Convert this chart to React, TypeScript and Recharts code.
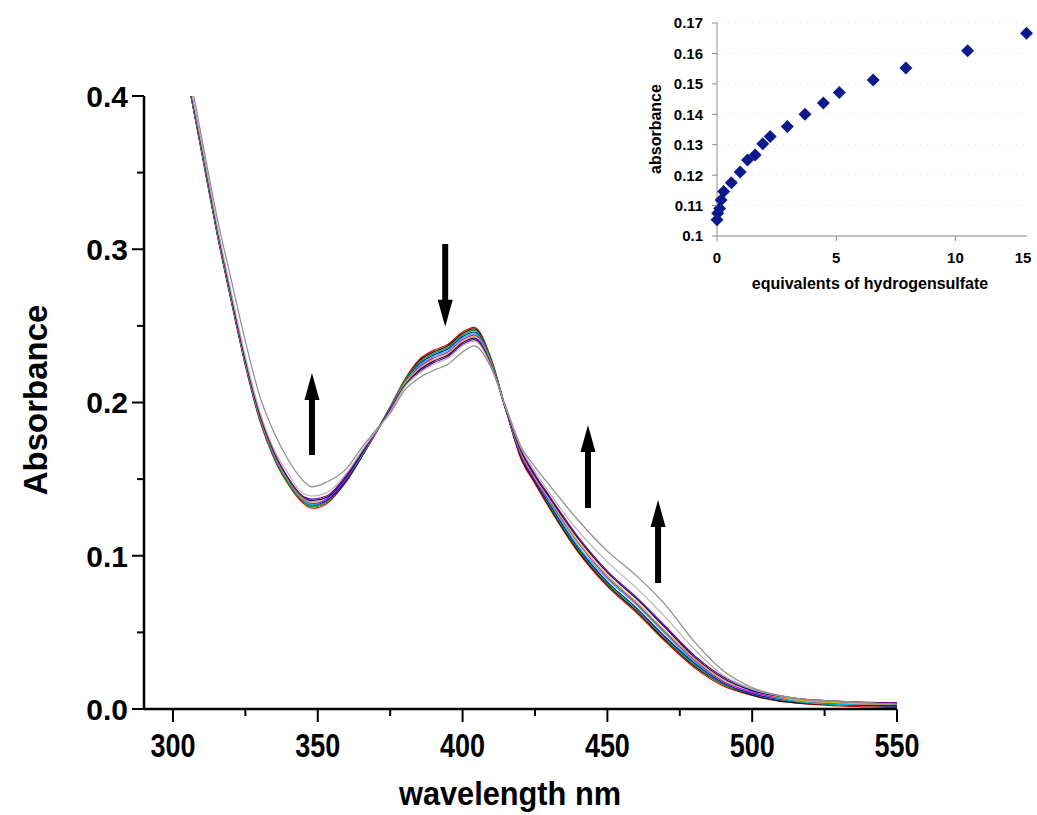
import React from 'react';
import { LineChart, Line, XAxis, YAxis, ReferenceLine, ScatterChart, Scatter, CartesianGrid } from 'recharts';

// wavelength grid (nm) for the titration spectra
const wavelengths = [305, 310, 315, 320, 325, 330, 335, 340, 344, 348, 353, 360, 365, 370, 375, 380, 385, 390, 395, 400, 404, 410, 415, 420, 425, 430, 440, 450, 460, 470, 480, 490, 500, 515, 530, 550];

// absorbance of each spectrum, first (no anion) to last
const spec01 = [0.412, 0.362, 0.312, 0.267, 0.224, 0.188, 0.163, 0.146, 0.136, 0.131, 0.134, 0.149, 0.164, 0.180, 0.197, 0.215, 0.228, 0.234, 0.238, 0.246, 0.249, 0.228, 0.195, 0.164, 0.147, 0.131, 0.102, 0.080, 0.063, 0.044, 0.027, 0.015, 0.009, 0.004, 0.002, 0.001];
const spec02 = [0.412, 0.363, 0.313, 0.268, 0.225, 0.189, 0.164, 0.147, 0.137, 0.132, 0.135, 0.149, 0.164, 0.180, 0.197, 0.214, 0.227, 0.233, 0.237, 0.245, 0.248, 0.227, 0.195, 0.165, 0.148, 0.132, 0.103, 0.081, 0.064, 0.045, 0.028, 0.016, 0.009, 0.004, 0.003, 0.002];
const spec03 = [0.413, 0.363, 0.313, 0.268, 0.225, 0.189, 0.164, 0.147, 0.137, 0.132, 0.135, 0.150, 0.165, 0.180, 0.197, 0.214, 0.226, 0.232, 0.236, 0.244, 0.247, 0.227, 0.195, 0.166, 0.149, 0.133, 0.104, 0.082, 0.065, 0.046, 0.029, 0.016, 0.010, 0.005, 0.003, 0.002];
const spec04 = [0.413, 0.364, 0.314, 0.269, 0.226, 0.190, 0.165, 0.148, 0.138, 0.133, 0.136, 0.150, 0.165, 0.180, 0.196, 0.213, 0.225, 0.231, 0.235, 0.243, 0.246, 0.226, 0.195, 0.166, 0.149, 0.134, 0.105, 0.083, 0.066, 0.047, 0.030, 0.017, 0.010, 0.005, 0.003, 0.002];
const spec05 = [0.413, 0.364, 0.314, 0.269, 0.226, 0.190, 0.165, 0.148, 0.138, 0.133, 0.137, 0.151, 0.165, 0.180, 0.196, 0.213, 0.224, 0.230, 0.234, 0.242, 0.245, 0.226, 0.195, 0.167, 0.150, 0.135, 0.106, 0.085, 0.068, 0.049, 0.031, 0.018, 0.011, 0.005, 0.003, 0.003];
const spec06 = [0.414, 0.365, 0.315, 0.270, 0.227, 0.191, 0.166, 0.149, 0.139, 0.134, 0.137, 0.151, 0.166, 0.180, 0.196, 0.212, 0.223, 0.229, 0.233, 0.241, 0.244, 0.225, 0.195, 0.167, 0.150, 0.136, 0.108, 0.086, 0.069, 0.050, 0.032, 0.018, 0.011, 0.006, 0.004, 0.003];
const spec07 = [0.414, 0.365, 0.315, 0.270, 0.227, 0.191, 0.166, 0.149, 0.139, 0.135, 0.138, 0.152, 0.166, 0.181, 0.195, 0.212, 0.222, 0.228, 0.232, 0.240, 0.243, 0.225, 0.195, 0.168, 0.151, 0.137, 0.109, 0.087, 0.070, 0.051, 0.033, 0.019, 0.012, 0.006, 0.004, 0.003];
const spec08 = [0.414, 0.366, 0.316, 0.271, 0.228, 0.192, 0.167, 0.150, 0.140, 0.136, 0.138, 0.152, 0.166, 0.181, 0.195, 0.211, 0.221, 0.227, 0.231, 0.239, 0.242, 0.224, 0.195, 0.169, 0.152, 0.138, 0.111, 0.089, 0.072, 0.053, 0.034, 0.020, 0.012, 0.007, 0.005, 0.004];
const spec09 = [0.415, 0.366, 0.316, 0.271, 0.228, 0.192, 0.167, 0.150, 0.140, 0.137, 0.139, 0.153, 0.167, 0.181, 0.195, 0.211, 0.220, 0.226, 0.230, 0.238, 0.241, 0.224, 0.195, 0.170, 0.153, 0.139, 0.112, 0.090, 0.073, 0.054, 0.035, 0.021, 0.013, 0.007, 0.005, 0.004];
const spec10 = [0.416, 0.368, 0.318, 0.273, 0.230, 0.194, 0.169, 0.153, 0.142, 0.139, 0.141, 0.154, 0.168, 0.181, 0.194, 0.210, 0.219, 0.225, 0.229, 0.237, 0.240, 0.223, 0.196, 0.171, 0.155, 0.141, 0.116, 0.096, 0.079, 0.060, 0.039, 0.022, 0.013, 0.007, 0.005, 0.003];
const spec11 = [0.422, 0.372, 0.323, 0.281, 0.240, 0.204, 0.180, 0.162, 0.151, 0.145, 0.148, 0.157, 0.170, 0.182, 0.193, 0.208, 0.216, 0.221, 0.225, 0.233, 0.237, 0.222, 0.197, 0.172, 0.158, 0.146, 0.123, 0.103, 0.087, 0.068, 0.044, 0.025, 0.014, 0.007, 0.005, 0.003];

const spectra = [spec01, spec02, spec03, spec04, spec05, spec06, spec07, spec08, spec09, spec10, spec11];
const spectraColors = ['#e00000', '#101010', '#00b000', '#0000e0', '#00c8c8', '#e000e0', '#d0c000', '#000090', '#7a007a', '#b4b4b4', '#8c8c8c'];

const xTicks = [300, 325, 350, 375, 400, 425, 450, 475, 500, 525, 550];
const yTicks = [0, 0.05, 0.1, 0.15, 0.2, 0.25, 0.3, 0.35, 0.4];

// inset: absorbance vs equivalents of hydrogensulfate
const equivalents = [0, 0.03, 0.11, 0.17, 0.28, 0.6, 0.97, 1.28, 1.6, 1.92, 2.23, 2.95, 3.69, 4.46, 5.13, 6.55, 7.92, 10.51, 12.98];
const insetAbsorbance = [0.1053, 0.1075, 0.109, 0.1118, 0.1146, 0.1175, 0.121, 0.125, 0.1266, 0.1303, 0.1327, 0.136, 0.14, 0.1437, 0.1472, 0.1513, 0.1552, 0.1609, 0.1666];
const insetXTicks = [0, 5, 10, 13];
const insetXLabels = ['0', '5', '10', '15'];
const insetYTicks = [0.1, 0.11, 0.12, 0.13, 0.14, 0.15, 0.16, 0.17];

// arrows: [wavelength, tail absorbance, tip absorbance]
const arrows = [
  [348, 0.1657, 0.2193],
  [394, 0.3034, 0.2495],
  [443.3, 0.1312, 0.1853],
  [467.5, 0.0822, 0.1364],
];

const FONT = "'Liberation Sans', Arial, sans-serif";

const rows = wavelengths.map((w, i) => {
  const row: any = { w };
  spectra.forEach((s, k) => { row['s' + k] = s[i]; });
  return row;
});

const insetData = equivalents.map((x, i) => ({ x, y: insetAbsorbance[i] }));

const MainXTick = (props: any) => {
  const { x, y, payload } = props;
  const major = payload.value % 50 === 0;
  return (
    <g>
      <line x1={x} x2={x} y1={y} y2={y + (major ? 13 : 7)} stroke="#000" strokeWidth={2} />
      {major && (
        <text x={x} y={y + 48} textAnchor="middle" fontFamily={FONT} fontWeight="bold" fontSize={33}
          textLength={45} lengthAdjust="spacingAndGlyphs" fill="#000">{payload.value}</text>
      )}
    </g>
  );
};

const MainYTick = (props: any) => {
  const { x, y, payload } = props;
  const major = Math.round(payload.value * 100) % 10 === 0;
  return (
    <g>
      <line x1={x - (major ? 12 : 7)} x2={x} y1={y} y2={y} stroke="#000" strokeWidth={2} />
      {major && (
        <text x={x - 16} y={y} dy="0.36em" textAnchor="end" fontFamily={FONT} fontWeight="bold" fontSize={30} fill="#000">
          {payload.value.toFixed(1)}
        </text>
      )}
    </g>
  );
};

const InsetXTick = (props: any) => {
  const { x, y, payload, index } = props;
  return (
    <g>
      {payload.value !== 13 && <line x1={x} x2={x} y1={y} y2={y + 5} stroke="#888" strokeWidth={1} />}
      <text x={payload.value === 13 ? x - 4 : x} y={y + 27} textAnchor="middle" fontFamily={FONT} fontWeight="bold" fontSize={15} fill="#000">
        {insetXLabels[index]}
      </text>
    </g>
  );
};

const InsetYTick = (props: any) => {
  const { x, y, payload } = props;
  return (
    <g>
      <line x1={x - 5} x2={x} y1={y} y2={y} stroke="#888" strokeWidth={1} />
      <text x={x - 14} y={y} dy="0.36em" textAnchor="end" fontFamily={FONT} fontWeight="bold" fontSize={15} fill="#000">
        {String(Math.round(payload.value * 100) / 100)}
      </text>
    </g>
  );
};

const Diamond = (props: any) => {
  const { cx, cy } = props;
  const r = 6.5;
  return <path d={`M${cx},${cy - r}L${cx + r},${cy}L${cx},${cy + r}L${cx - r},${cy}Z`} fill="#0d1a8c" />;
};

const Arrow = (props: any) => {
  const { x1, y1, x2, y2 } = props;
  const x = (x1 + x2) / 2;
  const d = y2 > y1 ? 1 : -1;
  const yh = y2 - d * 27;
  const pts = [
    [x - 3, y1], [x + 3, y1], [x + 3, yh], [x + 7.5, yh], [x, y2], [x - 7.5, yh], [x - 3, yh],
  ].map((p) => p.join(',')).join(' ');
  return <polygon points={pts} fill="#000" />;
};

export default function App() {
  return (
    <div style={{ position: 'absolute', left: 0, top: 0, width: 1037, height: 815, background: '#fff', overflow: 'hidden' }}>
      <div style={{ position: 'absolute', left: 0, top: 0 }}>
        <LineChart width={1037} height={815} data={rows} margin={{ top: 96, right: 140, bottom: 46, left: 64 }}>
          <XAxis dataKey="w" type="number" domain={[290, 550]} ticks={xTicks} interval={0} height={60}
            allowDataOverflow tickSize={0} tickMargin={0} tickLine={false}
            axisLine={{ stroke: '#000', strokeWidth: 2.5 }} tick={<MainXTick />} />
          <YAxis type="number" domain={[0, 0.4]} ticks={yTicks} interval={0} width={80}
            allowDataOverflow tickSize={0} tickMargin={0} tickLine={false}
            axisLine={{ stroke: '#000', strokeWidth: 2.5 }} tick={<MainYTick />} />
          {spectra.map((_, k) => (
            <Line key={k} dataKey={'s' + k} type="monotone" stroke={spectraColors[k]} strokeWidth={1.2}
              dot={false} activeDot={false} isAnimationActive={false} />
          ))}
          {arrows.map((a, i) => (
            <ReferenceLine key={i} segment={[{ x: a[0], y: a[1] }, { x: a[0], y: a[2] }]} shape={<Arrow />} />
          ))}
        </LineChart>
      </div>
      <div style={{ position: 'absolute', left: 0, top: 0 }}>
        <ScatterChart width={1037} height={300} margin={{ top: 23, right: 10, bottom: 34, left: 667 }}>
          <CartesianGrid vertical={false} stroke="#e4e4e4" strokeDasharray="1 5" />
          <XAxis dataKey="x" type="number" domain={[0, 13]} ticks={insetXTicks} interval={0} height={30}
            tickSize={0} tickMargin={0} tickLine={false} axisLine={{ stroke: '#888', strokeWidth: 1 }} tick={<InsetXTick />} />
          <YAxis dataKey="y" type="number" domain={[0.1, 0.17]} ticks={insetYTicks} interval={0} width={50}
            tickSize={0} tickMargin={0} tickLine={false} axisLine={{ stroke: '#888', strokeWidth: 1 }} tick={<InsetYTick />} />
          <Scatter data={insetData} shape={<Diamond />} isAnimationActive={false} />
        </ScatterChart>
      </div>
      <svg width={1037} height={815} style={{ position: 'absolute', left: 0, top: 0, pointerEvents: 'none' }}>
        <text transform="translate(47,400) rotate(-90)" textAnchor="middle" fontFamily={FONT} fontWeight="bold" fontSize={33} fill="#000">
          Absorbance
        </text>
        <text x={510} y={805} textAnchor="middle" fontFamily={FONT} fontWeight="bold" fontSize={34}
          textLength={222} lengthAdjust="spacingAndGlyphs" fill="#000">wavelength nm</text>
        <text transform="translate(661,129) rotate(-90)" textAnchor="middle" fontFamily={FONT} fontWeight="bold" fontSize={16} fill="#000">
          absorbance
        </text>
        <text x={870} y={289} textAnchor="middle" fontFamily={FONT} fontWeight="bold" fontSize={16} fill="#000">
          equivalents of hydrogensulfate
        </text>
      </svg>
    </div>
  );
}
